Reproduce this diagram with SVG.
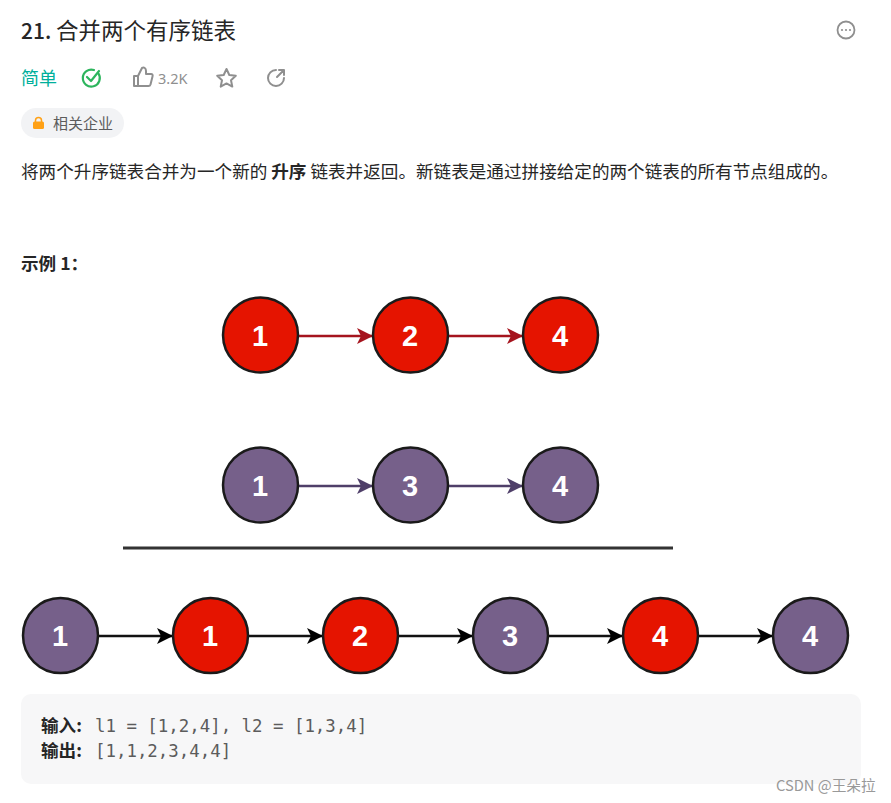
<svg xmlns="http://www.w3.org/2000/svg" width="891" height="803" viewBox="0 0 891 803">
<defs>
<style>
text{font-family:"Noto Sans CJK SC","Noto Sans",sans-serif}
.title{font-size:22.500px;font-weight:400;fill:#262626}
.body{font-size:17.600px;fill:#262626}
.bold{font-weight:700}
.mono{font-family:"DejaVu Sans Mono","Liberation Mono",monospace;font-size:17.400px;fill:#5c5c5c}
.n{stroke:#1a1a1a;stroke-width:2.500}
.r{fill:#e51400}
.p{fill:#76608a}
.num{font-family:"Liberation Sans",Arial,sans-serif;font-size:29px;font-weight:700;fill:#fff;text-anchor:middle}
.ic{fill:none;stroke:#8f8f8f;stroke-width:2;stroke-linecap:round;stroke-linejoin:round}
.cr{stroke:#a5141e;stroke-width:2.500;fill:none}
.cp{stroke:#4f3f69;stroke-width:2.500;fill:none}
.ck{stroke:#111;stroke-width:2.500;fill:none}
</style>
<marker id="mr" markerUnits="userSpaceOnUse" markerWidth="17" markerHeight="16" refX="16" refY="8" orient="auto"><path d="M0 0L16 8L0 16L4 8Z" fill="#a5141e"/></marker>
<marker id="mp" markerUnits="userSpaceOnUse" markerWidth="17" markerHeight="16" refX="16" refY="8" orient="auto"><path d="M0 0L16 8L0 16L4 8Z" fill="#4f3f69"/></marker>
<marker id="mk" markerUnits="userSpaceOnUse" markerWidth="17" markerHeight="16" refX="16" refY="8" orient="auto"><path d="M0 0L16 8L0 16L4 8Z" fill="#000"/></marker>
</defs>
<rect width="891" height="803" fill="#fff"/>
<g id="header">
<text class="title" x="21" y="39"><tspan font-size="21" font-weight="500">21. </tspan>合并两个有序链表</text>
<text x="21" y="85" font-size="18" fill="#00af9b">简单</text>
<g id="solved-icon" fill="none" stroke="#2db55d" stroke-width="2.200" stroke-linecap="round" stroke-linejoin="round"><path d="M98.500 73.500A8.500 8.500 0 1 1 94 70"/><path d="M87 77l4 4l8-10"/></g>
<g id="like-icon"><path class="ic" d="M134 76h4v10h-4zM138 76l4-8c2-1 4 0 4 3v3h5c1.500 0 2 1 1.500 2.500l-2 8c-.3 1-1 1.500-2 1.500h-10.500"/></g>
<text x="158" y="84" font-size="14.500" fill="#8f8f8f" style="font-family:'Noto Sans',sans-serif">3.2K</text>
<path id="star-icon" class="ic" d="M226.500 69l2.800 6 6.500.8-4.800 4.400 1.300 6.400-5.800-3.200-5.800 3.200 1.300-6.400-4.800-4.400 6.500-.8z"/>
<g id="share-icon" class="ic"><path d="M284 78a8 8 0 1 1-8-8"/><path d="M279 70h5v5M284 70l-7 7"/></g>
<g id="more-icon"><circle cx="846" cy="30" r="8.500" fill="none" stroke="#8f8f8f" stroke-width="1.800"/><circle cx="842" cy="30" r="1.100" fill="#8f8f8f"/><circle cx="846" cy="30" r="1.100" fill="#8f8f8f"/><circle cx="850" cy="30" r="1.100" fill="#8f8f8f"/></g>
</g>
<g id="company-tag">
<rect x="21" y="108" width="103" height="30" rx="15" fill="#f2f3f5"/>
<path d="M35.500 122v-1.500a3 3 0 0 1 6 0v1.500" fill="none" stroke="#ffa116" stroke-width="1.500"/>
<rect x="33" y="121.500" width="11" height="7.500" rx="1.500" fill="#ffa116"/>
<text x="53" y="129" font-size="15" fill="#5c5c5c">相关企业</text>
</g>
<text class="body" x="21" y="178">将两个升序链表合并为一个新的 <tspan class="bold">升序</tspan> 链表并返回。新链表是通过拼接给定的两个链表的所有节点组成的。</text>
<text class="body bold" x="21" y="270">示例 1：</text>
<g id="connectors">
<path class="cr" marker-end="url(#mr)" d="M298 336H373"/>
<path class="cr" marker-end="url(#mr)" d="M448 336H523"/>
<path class="cp" marker-end="url(#mp)" d="M298 486H373"/>
<path class="cp" marker-end="url(#mp)" d="M448 486H523"/>
<path class="ck" marker-end="url(#mk)" d="M98 636H173"/>
<path class="ck" marker-end="url(#mk)" d="M248 636H323"/>
<path class="ck" marker-end="url(#mk)" d="M398 636H473"/>
<path class="ck" marker-end="url(#mk)" d="M548 636H623"/>
<path class="ck" marker-end="url(#mk)" d="M698 636H773"/>
</g>
<g id="a1"><circle class="n r" cx="260.500" cy="335" r="37.500"/><text class="num" x="260" y="346">1</text></g>
<g id="a2"><circle class="n r" cx="410.500" cy="335" r="37.500"/><text class="num" x="410" y="346">2</text></g>
<g id="a3"><circle class="n r" cx="560.500" cy="335" r="37.500"/><text class="num" x="560" y="346">4</text></g>
<g id="b1"><circle class="n p" cx="260.500" cy="485" r="37.500"/><text class="num" x="260" y="496">1</text></g>
<g id="b2"><circle class="n p" cx="410.500" cy="485" r="37.500"/><text class="num" x="410" y="496">3</text></g>
<g id="b3"><circle class="n p" cx="560.500" cy="485" r="37.500"/><text class="num" x="560" y="496">4</text></g>
<path id="divider" d="M123 548H673" stroke="#333" stroke-width="3"/>
<g id="c1"><circle class="n p" cx="60.500" cy="635.500" r="37.500"/><text class="num" x="60" y="646">1</text></g>
<g id="c2"><circle class="n r" cx="210.500" cy="635.500" r="37.500"/><text class="num" x="210" y="646">1</text></g>
<g id="c3"><circle class="n r" cx="360.500" cy="635.500" r="37.500"/><text class="num" x="360" y="646">2</text></g>
<g id="c4"><circle class="n p" cx="510.500" cy="635.500" r="37.500"/><text class="num" x="510" y="646">3</text></g>
<g id="c5"><circle class="n r" cx="660.500" cy="635.500" r="37.500"/><text class="num" x="660" y="646">4</text></g>
<g id="c6"><circle class="n p" cx="810.500" cy="635.500" r="37.500"/><text class="num" x="810" y="646">4</text></g>
<g id="example">
<rect x="21" y="694" width="840" height="90" rx="10" fill="#f7f7f8"/>
<text class="body bold" x="41" y="732">输入:</text>
<text class="mono" x="95" y="732">l1 = [1,2,4], l2 = [1,3,4]</text>
<text class="body bold" x="41" y="757">输出:</text>
<text class="mono" x="95" y="757">[1,1,2,3,4,4]</text>
</g>
<text id="watermark" x="776" y="791" font-size="14.700" fill="#999">CSDN @王朵拉</text>
</svg>
